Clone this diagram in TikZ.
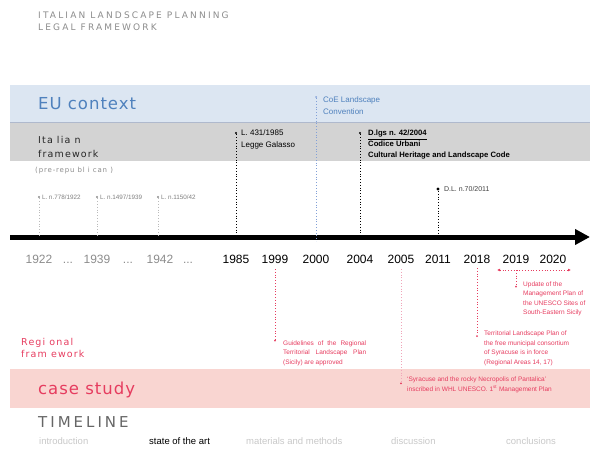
\documentclass[tikz,border=0pt]{standalone}
\usepackage{fontspec}
\setmainfont{Liberation Sans}
\newfontfamily\headfont[LetterSpace=6]{DejaVu Sans}
\newfontfamily\framefont[LetterSpace=12]{DejaVu Sans}
\newfontfamily\timefont[LetterSpace=20]{DejaVu Sans}
\newfontfamily\titlefont[LetterSpace=24]{DejaVu Sans}
\usetikzlibrary{arrows.meta,positioning,calc}
\definecolor{eublue}{RGB}{79,129,189}
\definecolor{eufill}{RGB}{220,230,242}
\definecolor{itfill}{RGB}{211,211,211}
\definecolor{bandline}{RGB}{175,185,205}
\definecolor{casefill}{RGB}{249,213,209}
\definecolor{regred}{RGB}{230,60,95}
\definecolor{palered}{RGB}{240,165,185}
\definecolor{oldgray}{RGB}{140,140,140}
\definecolor{navgray}{RGB}{200,200,200}
\definecolor{tickblue}{RGB}{130,160,215}
\tikzset{
  band/.style={draw=none,inner sep=0pt,anchor=north west,minimum width=580pt},
  headlbl/.style={anchor=base west,inner sep=0pt,font=\headfont\fontsize{16.5}{18}\selectfont},
  framelbl/.style={anchor=base west,inner sep=0pt,font=\framefont\fontsize{9.5}{11}\selectfont},
  yearlbl/.style={anchor=base,inner sep=0pt,font=\fontsize{12}{14}\selectfont},
  oldyear/.style={yearlbl,text=oldgray},
  tickline/.style={dotted,line width=0.8pt},
  tickdot/.style={circle,fill,inner sep=0pt,minimum size=2.4pt},
  eventlbl/.style={anchor=north west,inner sep=0pt,align=left,font=\fontsize{8}{12}\selectfont},
  oldlbl/.style={anchor=west,inner sep=0pt,font=\fontsize{6.3}{7}\selectfont,text=oldgray!90!black},
  reglbl/.style={anchor=north west,inner sep=0pt,align=left,text=regred,font=\fontsize{6.5}{9.5}\selectfont},
  navlbl/.style={anchor=base west,inner sep=0pt,font=\fontsize{9.5}{11}\selectfont,text=navgray},
  axis/.style={line width=5pt,-{Triangle[length=15pt,width=15pt]}}
}

\begin{document}
\begin{tikzpicture}[x=1pt,y=-1pt]
  \useasboundingbox (0,0) rectangle (590,450);

  %% Title
  \node[anchor=base west,inner sep=0pt,text=oldgray,font=\titlefont\fontsize{9}{10}\selectfont] (title1) at (38,18) {ITALIAN LANDSCAPE PLANNING};
  \node[anchor=base west,inner sep=0pt,text=oldgray,font=\titlefont\fontsize{9}{10}\selectfont] (title2) at (38,30) {LEGAL FRAMEWORK};

  %% Bands
  \node[band,fill=eufill,minimum height=37pt] (euband) at (10,85) {};
  \node[band,fill=itfill,minimum height=39pt] (itband) at (10,122) {};
  \draw[bandline] (itband.north west) -- (itband.north east);
  \node[band,fill=casefill,minimum height=39pt] (caseband) at (10,369) {};

  \node[headlbl,text=eublue] (eu) at (38,109) {EU context};
  \node[framelbl,text=black!85] (ital) at (38,143) {Ita lia n};
  \node[framelbl,text=black!85] (itfw) at (38,157.5) {framework};
  \node[anchor=base west,inner sep=0pt,text=oldgray,font=\framefont\fontsize{7}{8}\selectfont] (prerep) at (35,172) {(pre-repu bl i can )};
  \node[framelbl,text=regred] (regi) at (21,345) {Regi onal};
  \node[framelbl,text=regred] (regfw) at (21,357.7) {fram ework};
  \node[headlbl,text=regred] (case) at (38,394) {case study};
  \node[anchor=base west,inner sep=0pt,text=black!60,font=\timefont\fontsize{15}{17}\selectfont] (tline) at (38,427) {TIMELINE};

  %% Axis
  \coordinate (axstart) at (10,237);
  \coordinate (axend) at (590,237);
  \draw[axis] (axstart) -- (axend);

  %% Years
  \foreach \yr/\xx in {1922/39,1939/97,1942/160}
    \node[oldyear] (y\yr) at (\xx,263) {\yr};
  \foreach \nm/\xx in {da/68,db/128,dc/188}
    \node[oldyear] (\nm) at (\xx,263) {...};
  \foreach \yr/\xx in {1985/236,1999/275,2000/316,2004/360,2005/401,2011/438,2018/477,2019/516,2020/553}
    \node[yearlbl] (y\yr) at (\xx,263) {\yr};

  %% Ticks above the axis
  \foreach \yr/\xx in {1922/39,1939/97,1942/158} {
    \node[tickdot,fill=oldgray,minimum size=2.2pt] (d\yr) at (\xx,197) {};
    \draw[tickline,oldgray!60] (d\yr) -- (d\yr |- axstart);
  }
  \node[oldlbl,right=1.5pt of d1922] (l1922) {L. n.778/1922};
  \node[oldlbl,right=1.5pt of d1939] (l1939) {L. n.1497/1939};
  \node[oldlbl,right=1.5pt of d1942] (l1942) {L. n.1150/42};

  \node[tickdot] (d1985) at (236,133) {};
  \node[tickdot,fill=tickblue,minimum size=2pt] (d2000) at (316,97) {};
  \node[tickdot] (d2004) at (360,133) {};
  \node[tickdot,minimum size=3.4pt] (d2011) at (438,189) {};
  \draw[tickline] (d1985) -- (d1985 |- axstart);
  \draw[tickline,tickblue] (d2000) -- ($(d2000 |- axstart)+(0,4)$);
  \draw[tickline] (d2004) -- (d2004 |- axstart);
  \draw[tickline] (d2011) -- (d2011 |- axstart);

  \node[eventlbl] (l1985) at (241,130) {L. 431/1985\\Legge Galasso};
  \node[eventlbl,text=eublue] (l2000) at (323,97) {CoE Landscape\\Convention};
  \node[eventlbl,font=\bfseries\fontsize{7.7}{11}\selectfont] (l2004) at (368,130)
    {\underline{D.lgs n. 42/2004}\\Codice Urbani\\Cultural Heritage and Landscape Code};
  \node[oldlbl,text=black!75,font=\fontsize{7}{8}\selectfont,right=4pt of d2011] (l2011) {D.L. n.70/2011};

  %% Ticks below the axis
  \coordinate (r1999) at (275,269);
  \coordinate (r2005) at (401,269);
  \coordinate (r2018) at (477,268);
  \coordinate (r2019a) at (497,270);
  \coordinate (r2019b) at (571,270);
  \coordinate (r2019) at (516,270);
  \node[tickdot,fill=regred,minimum size=2pt] (d1999) at (275,340.7) {};
  \node[tickdot,fill=regred,minimum size=2pt] (d2005) at (401,383.3) {};
  \node[tickdot,fill=regred,minimum size=2pt] (d2018) at (477,336) {};
  \node[tickdot,fill=regred,minimum size=2pt] (d2019) at (516,286.7) {};
  \draw[tickline,regred] (r1999) -- (d1999);
  \draw[tickline,palered] (r2005) -- (d2005);
  \draw[tickline,regred] (r2018) -- (d2018);
  \draw[tickline,regred,{Latex[length=3pt,width=3pt]}-{Latex[length=3pt,width=3pt]}] (r2019a) -- (r2019b);
  \draw[tickline,regred] (r2019) -- (d2019);

  \node[reglbl,text width=83pt,align=justify] (l1999) at (283,340.3)
    {Guidelines of the Regional Territorial Landscape Plan (Sicily) are approved};
  \node[reglbl] (l2005) at (407,376.8)
    {`Syracuse and the rocky Necropolis of Pantalica'\\inscribed in WHL UNESCO. 1\textsuperscript{st} Management Plan};
  \node[reglbl] (l2018) at (484,331)
    {Territorial Landscape Plan of\\the free municipal consortium\\of Syracuse is in force\\(Regional Areas 14, 17)};
  \node[reglbl,font=\fontsize{6.5}{9.3}\selectfont] (l2019) at (523,281.6)
    {Update of the\\Management Plan of\\the UNESCO Sites of\\South-Eastern Sicily};

  %% Navigation
  \node[navlbl] (nav1) at (39,444) {introduction};
  \node[navlbl,text=black] (nav2) at (149,444) {state of the art};
  \node[navlbl] (nav3) at (246,444) {materials and methods};
  \node[navlbl] (nav4) at (391,444) {discussion};
  \node[navlbl] (nav5) at (506,444) {conclusions};
\end{tikzpicture}
\end{document}
